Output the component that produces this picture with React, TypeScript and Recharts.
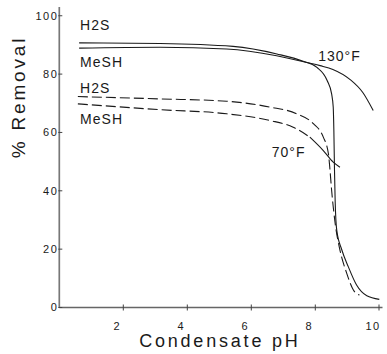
import React from 'react';
import { LineChart, Line, XAxis, YAxis, ReferenceDot } from 'recharts';

const xTicks = [2, 4, 6, 8, 10];
const yTicks = [0, 20, 40, 60, 80, 100];

const h2s130 = [
  { x: 0.62, y: 90.7 }, { x: 3.15, y: 90.5 }, { x: 5.43, y: 89.5 }, { x: 6.8, y: 86.9 },
  { x: 7.62, y: 84.4 }, { x: 8.05, y: 82.3 }, { x: 8.37, y: 77.8 }, { x: 8.51, y: 73.2 },
  { x: 8.56, y: 68.7 }, { x: 8.58, y: 60.7 }, { x: 8.6, y: 47.0 }, { x: 8.62, y: 36.8 },
  { x: 8.67, y: 26.5 }, { x: 8.83, y: 19.7 }, { x: 9.03, y: 14.0 }, { x: 9.29, y: 7.7 },
  { x: 9.61, y: 4.0 }, { x: 10.0, y: 2.8 },
];
const mesh130 = [
  { x: 0.62, y: 88.9 }, { x: 3.15, y: 89.2 }, { x: 5.23, y: 88.6 }, { x: 6.79, y: 86.3 },
  { x: 7.73, y: 84.0 }, { x: 8.15, y: 82.9 }, { x: 8.55, y: 81.6 },
  { x: 9.08, y: 78.2 }, { x: 9.49, y: 73.6 }, { x: 9.81, y: 67.5 },
];
const h2s70 = [
  { x: 0.58, y: 72.3 }, { x: 3.15, y: 71.5 }, { x: 5.23, y: 70.7 }, { x: 6.58, y: 68.7 },
  { x: 7.42, y: 66.4 }, { x: 7.94, y: 63.0 }, { x: 8.25, y: 58.4 }, { x: 8.41, y: 52.7 },
  { x: 8.46, y: 47.0 }, { x: 8.51, y: 40.2 }, { x: 8.62, y: 28.9 }, { x: 8.77, y: 19.7 },
  { x: 8.98, y: 11.8 }, { x: 9.19, y: 6.0 }, { x: 9.38, y: 4.3 },
];
const mesh70 = [
  { x: 0.58, y: 69.8 }, { x: 3.15, y: 67.8 }, { x: 5.23, y: 66.4 }, { x: 6.58, y: 64.1 },
  { x: 7.31, y: 61.8 }, { x: 7.83, y: 58.4 },
];
const mesh70Tail = [
  { x: 7.83, y: 58.4 }, { x: 8.25, y: 53.8 }, { x: 8.56, y: 49.8 }, { x: 8.77, y: 48.1 },
];

const notes = [
  { x: 0.65, y: 95.1, text: 'H2S' },
  { x: 0.65, y: 82.5, text: 'MeSH' },
  { x: 0.65, y: 73.4, text: 'H2S' },
  { x: 0.65, y: 62.9, text: 'MeSH' },
  { x: 8.09, y: 84.6, text: '130°F' },
  { x: 6.64, y: 51.7, text: '70°F' },
];

const FONT = '"Liberation Sans", Arial, sans-serif';
const INK = '#1a1a1a';

const XTick = (props: any) => {
  const { x, y, payload } = props;
  return (
    <g>
      <line x1={x} x2={x} y1={y - 3} y2={y + 3} stroke="#444" strokeWidth={1} />
      <text x={x - 6} y={y + 22} textAnchor="middle" fontSize={11} letterSpacing={1.5} fill={INK} fontFamily={FONT}>
        {payload.value}
      </text>
    </g>
  );
};

const YTick = (props: any) => {
  const { x, y, payload } = props;
  return (
    <g>
      <line x1={x - 1} x2={x + 3} y1={y} y2={y} stroke="#444" strokeWidth={1} />
      <text x={x - 1} y={y} dy="0.36em" textAnchor="end" fontSize={11} letterSpacing={1.5} fill={INK} fontFamily={FONT}>
        {payload.value}
      </text>
    </g>
  );
};

const XTitle = (props: any) => {
  const vb = props.viewBox;
  return (
    <text x={vb.x + vb.width / 2 - 1} y={vb.y + 39} textAnchor="middle" fontSize={18} letterSpacing={2.8} fill={INK} fontFamily={FONT}>
      Condensate pH
    </text>
  );
};

const YTitle = () => {
  const cx = 25;
  const cy = 97;
  return (
    <text x={cx} y={cy} transform={`rotate(-90 ${cx} ${cy})`} textAnchor="middle" fontSize={19} letterSpacing={2.8} fill={INK} fontFamily={FONT}>
      % Removal
    </text>
  );
};

const Note = (text: string) => (p: any) => (
  <text x={p.cx} y={p.cy} fontSize={14} letterSpacing={1} fill={INK} fontFamily={FONT}>
    {text}
  </text>
);

export default function App() {
  return (
    <div style={{ position: 'absolute', left: 0, top: 0, background: '#fff' }}>
      <LineChart width={387} height={354} margin={{ top: 7, right: 4.5, bottom: 0, left: 0 }}>
        <XAxis
          type="number"
          dataKey="x"
          domain={[0, 10.1]}
          ticks={xTicks}
          tickSize={0}
          tickMargin={0}
          tickLine={false}
          tick={<XTick />}
          height={46.5}
          stroke="#666"
          strokeWidth={1.5}
          allowDataOverflow
          label={<XTitle />}
        />
        <YAxis
          type="number"
          dataKey="y"
          domain={[0, 103]}
          ticks={yTicks}
          tickSize={0}
          tickMargin={0}
          tickLine={false}
          tick={<YTick />}
          width={59.3}
          stroke="#777"
          strokeWidth={1.7}
          allowDataOverflow
          label={<YTitle />}
        />
        <Line data={h2s130} dataKey="y" type="monotone" stroke={INK} strokeWidth={1.1} dot={false} isAnimationActive={false} />
        <Line data={mesh130} dataKey="y" type="monotone" stroke={INK} strokeWidth={1.1} dot={false} isAnimationActive={false} />
        <Line data={h2s70} dataKey="y" type="monotone" stroke={INK} strokeWidth={1.1} strokeDasharray="10 4" dot={false} isAnimationActive={false} />
        <Line data={mesh70} dataKey="y" type="monotone" stroke={INK} strokeWidth={1.1} strokeDasharray="10 4" dot={false} isAnimationActive={false} />
        <Line data={mesh70Tail} dataKey="y" type="monotone" stroke={INK} strokeWidth={1.1} dot={false} isAnimationActive={false} />
        {notes.map((n, i) => (
          <ReferenceDot key={i} x={n.x} y={n.y} r={0} shape={Note(n.text)} />
        ))}
      </LineChart>
    </div>
  );
}
